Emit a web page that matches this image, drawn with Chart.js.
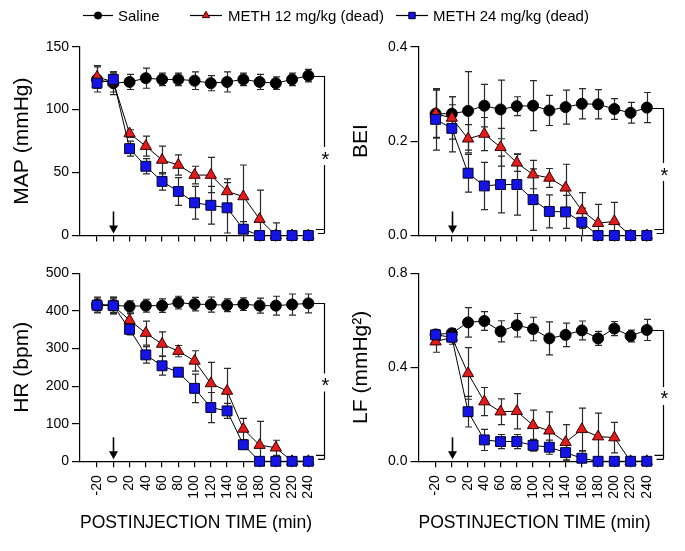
<!DOCTYPE html>
<html>
<head>
<meta charset="utf-8">
<script src="https://cdn.jsdelivr.net/npm/chart.js@4.4.1/dist/chart.umd.min.js"></script>
<style>
  html, body { margin: 0; padding: 0; background: #fff; }
  #wrap { position: relative; width: 685px; height: 551px; }
  #wrap canvas { position: absolute; left: 0; top: 0; }
</style>
</head>
<body>
<div id="wrap">
  <canvas id="map" width="685" height="551"></canvas>
  <canvas id="bei" width="685" height="551"></canvas>
  <canvas id="hr" width="685" height="551"></canvas>
  <canvas id="lf" width="685" height="551"></canvas>
</div>
<script>
// postinjection time (min)
const TIMES = [-20, 0, 20, 40, 60, 80, 100, 120, 140, 160, 180, 200, 220, 240];
const SERIES = ['Saline', 'METH 12 mg/kg (dead)', 'METH 24 mg/kg (dead)'];

// MAP (mmHg)
const mapSaline = [124, 121, 122, 125, 124, 124, 123, 121, 122, 124, 122, 121, 124, 127];
const mapSalineErr = [10, 9, 6, 8, 5, 5, 7, 6, 8, 5, 6, 5, 5, 5];
const mapMeth12 = [126, 122, 81, 71, 60, 56, 48, 48, 35, 31, 13, 0, 0, 0];
const mapMeth12Err = [9, 8, 3, 8, 11, 8, 7, 14, 10, 25, 23, 10, 0, 0];
const mapMeth24 = [121, 124, 69, 55, 43, 35, 26, 24, 22, 5, 0, 0, 0, 0];
const mapMeth24Err = [3, 5, 6, 6, 7, 11, 13, 15, 20, 6, 0, 0, 0, 0];

// BEI
const beiSaline = [0.258, 0.258, 0.264, 0.275, 0.267, 0.274, 0.275, 0.265, 0.272, 0.279, 0.278, 0.268, 0.260, 0.271];
const beiSalineErr = [0.052, 0.036, 0.083, 0.045, 0.062, 0.02, 0.053, 0.032, 0.036, 0.032, 0.031, 0.022, 0.022, 0.032];
const beiMeth12 = [0.258, 0.249, 0.205, 0.215, 0.187, 0.154, 0.129, 0.122, 0.101, 0.053, 0.026, 0.030, 0, 0];
const beiMeth12Err = [0.05, 0.045, 0.03, 0.035, 0.04, 0.018, 0.03, 0.02, 0.05, 0.038, 0.04, 0.04, 0, 0];
const beiMeth24 = [0.246, 0.227, 0.132, 0.105, 0.108, 0.108, 0.076, 0.051, 0.050, 0.028, 0, 0, 0, 0];
const beiMeth24Err = [0.065, 0.05, 0.04, 0.05, 0.06, 0.065, 0.065, 0.035, 0.035, 0.03, 0, 0, 0, 0];

// HR (bpm)
const hrSaline = [417, 415, 412, 414, 414, 422, 418, 417, 415, 418, 414, 414, 417, 420];
const hrSalineErr = [20, 22, 15, 17, 18, 17, 18, 20, 17, 17, 20, 25, 28, 25];
const hrMeth12 = [416, 414, 375, 341, 312, 293, 267, 207, 187, 86, 43, 36, 0, 0];
const hrMeth12Err = [15, 18, 18, 32, 32, 15, 27, 56, 60, 28, 63, 20, 0, 0];
const hrMeth24 = [415, 414, 351, 283, 254, 237, 194, 143, 134, 44, 0, 0, 0, 0];
const hrMeth24Err = [20, 22, 15, 22, 25, 10, 38, 40, 20, 12, 0, 0, 0, 0];

// LF (mmHg^2)
const lfSaline = [0.54, 0.545, 0.591, 0.597, 0.553, 0.579, 0.563, 0.523, 0.538, 0.557, 0.523, 0.565, 0.533, 0.559];
const lfSalineErr = [0.02, 0.02, 0.063, 0.04, 0.045, 0.05, 0.05, 0.07, 0.05, 0.04, 0.03, 0.03, 0.025, 0.045];
const lfMeth12 = [0.509, 0.528, 0.374, 0.254, 0.211, 0.213, 0.153, 0.130, 0.081, 0.136, 0.105, 0.101, 0, 0];
const lfMeth12Err = [0.045, 0.03, 0.11, 0.06, 0.055, 0.075, 0.065, 0.08, 0.075, 0.09, 0.1, 0.065, 0, 0];
const lfMeth24 = [0.538, 0.528, 0.211, 0.091, 0.084, 0.084, 0.068, 0.060, 0.037, 0.013, 0, 0, 0, 0];
const lfMeth24Err = [0.02, 0.02, 0.065, 0.045, 0.03, 0.03, 0.025, 0.03, 0.035, 0.03, 0, 0, 0, 0];

// y tick values
const mapTicks = [0, 50, 100, 150];
const beiTicks = [0, 0.2, 0.4];
const hrTicks = [0, 100, 200, 300, 400, 500];
const lfTicks = [0, 0.4, 0.8];

const FONT = "'Liberation Sans', Arial, Helvetica, sans-serif";
Chart.defaults.font.family = FONT;
Chart.defaults.color = '#000';

const W = 685, H = 551;

const STYLES = [
  { pointStyle: 'circle', radius: 5.5, fill: '#000000', stroke: '#000000', order: 3 },
  { pointStyle: 'triangle', radius: 6.5, fill: '#e01c1c', stroke: '#3a0000', order: 2 },
  { pointStyle: 'rect', radius: 7, fill: '#1414e6', stroke: '#00002a', order: 1 }
];

const errorBars = {
  id: 'errorBars',
  beforeDatasetsDraw(chart) {
    const { ctx, scales: { x, y } } = chart;
    ctx.save();
    ctx.strokeStyle = '#2a2a2a';
    ctx.lineWidth = 1.2;
    chart.data.datasets.forEach(ds => {
      ds.data.forEach((p, i) => {
        const e = ds.errors[i];
        if (!e) return;
        const px = Math.round(x.getPixelForValue(p.x)) + 0.5;
        const top = y.getPixelForValue(p.y + e);
        const bot = y.getPixelForValue(Math.max(0, p.y - e));
        ctx.beginPath();
        ctx.moveTo(px, top); ctx.lineTo(px, bot);
        ctx.moveTo(px - 3.5, top); ctx.lineTo(px + 3.5, top);
        ctx.moveTo(px - 3.5, bot); ctx.lineTo(px + 3.5, bot);
        ctx.stroke();
      });
    });
    ctx.restore();
  }
};

// significance bracket + injection arrow
const extras = {
  id: 'extras',
  afterDraw(chart) {
    const { ctx, chartArea, scales: { x, y } } = chart;
    const sal = chart.data.datasets[0].data;
    const yTop = Math.round(y.getPixelForValue(sal[sal.length - 1].y)) + 0.5;
    const yZero = y.getPixelForValue(0);
    const xr = Math.round(chartArea.right + 12) + 0.5;
    const mid = (yTop + yZero) / 2;
    ctx.save();
    ctx.strokeStyle = '#000';
    ctx.lineWidth = 1.2;
    ctx.beginPath();
    ctx.moveTo(chartArea.right + 1, yTop); ctx.lineTo(xr, yTop);
    ctx.lineTo(xr, mid - 9);
    ctx.moveTo(xr, mid + 9); ctx.lineTo(xr, yZero - 2);
    ctx.moveTo(chartArea.right + 4, yZero - 6); ctx.lineTo(xr, yZero - 6);
    ctx.moveTo(chartArea.right + 6, yZero - 2); ctx.lineTo(xr, yZero - 2);
    ctx.stroke();
    ctx.fillStyle = '#000';
    ctx.font = '20px ' + FONT;
    ctx.textAlign = 'center';
    ctx.textBaseline = 'middle';
    ctx.fillText('*', xr + 1, mid + 4);

    // arrow at injection time
    const ax = Math.round(x.getPixelForValue(0)) + 0.5;
    ctx.lineWidth = 1.6;
    ctx.beginPath();
    ctx.moveTo(ax, yZero - 24); ctx.lineTo(ax, yZero - 8);
    ctx.stroke();
    ctx.beginPath();
    ctx.moveTo(ax - 4.5, yZero - 10); ctx.lineTo(ax + 4.5, yZero - 10); ctx.lineTo(ax, yZero - 2);
    ctx.closePath();
    ctx.fill();
    ctx.restore();
  }
};

// legend row across the top of the figure
const legendRow = {
  id: 'legendRow',
  afterDraw(chart) {
    const { ctx } = chart;
    const items = [[83, 113, 118], [190, 222, 228], [396, 428, 433]];
    ctx.save();
    ctx.font = '15px ' + FONT;
    ctx.textBaseline = 'middle';
    ctx.textAlign = 'left';
    items.forEach(([x1, x2, tx], i) => {
      const st = STYLES[i];
      const y = 15.5;
      ctx.strokeStyle = '#000';
      ctx.lineWidth = 1.2;
      ctx.beginPath(); ctx.moveTo(x1, y); ctx.lineTo(x2, y); ctx.stroke();
      ctx.fillStyle = st.fill;
      ctx.strokeStyle = st.stroke;
      ctx.lineWidth = 1;
      Chart.helpers.drawPoint(ctx, { pointStyle: st.pointStyle, radius: st.radius * 0.65, rotation: 0, borderWidth: 1 }, (x1 + x2) / 2, y);
      ctx.fillStyle = '#000';
      ctx.fillText(SERIES[i], tx, y + 1);
    });
    ctx.restore();
  }
};

function makeChart(id, cfg) {
  const datasets = cfg.series.map(([vals, errs], i) => ({
    label: SERIES[i],
    data: TIMES.map((t, k) => ({ x: t, y: vals[k] })),
    errors: errs,
    order: STYLES[i].order,
    borderColor: '#000',
    borderWidth: 1,
    pointStyle: STYLES[i].pointStyle,
    pointRadius: STYLES[i].radius,
    pointBackgroundColor: STYLES[i].fill,
    pointBorderColor: STYLES[i].stroke,
    pointBorderWidth: 1,
    clip: false,
    tension: 0
  }));
  const plugins = [errorBars, extras];
  if (cfg.legend) plugins.push(legendRow);
  return new Chart(document.getElementById(id), {
    type: 'line',
    data: { datasets },
    plugins,
    options: {
      responsive: false,
      animation: false,
      events: [],
      layout: { padding: { left: cfg.padLeft, right: W - cfg.areaRight, top: cfg.top, bottom: 0 } },
      plugins: { legend: { display: false }, tooltip: { enabled: false } },
      scales: {
        x: {
          type: 'linear',
          min: -41,
          max: 244.5,
          afterBuildTicks: s => { s.ticks = TIMES.map(v => ({ value: v })); },
          afterFit: s => { s.height = H - cfg.bottom; },
          border: { display: true, color: '#000', width: 1.2 },
          grid: { drawOnChartArea: false, drawTicks: true, tickLength: 6, color: '#000', lineWidth: 1.2 },
          ticks: {
            display: cfg.xLabels,
            autoSkip: false,
            minRotation: 90,
            maxRotation: 90,
            padding: 8,
            font: { size: 14 },
            color: '#000'
          },
          title: {
            display: cfg.xLabels,
            text: 'POSTINJECTION TIME (min)',
            font: { size: 18 },
            color: '#000',
            padding: { top: 0, bottom: 17 }
          }
        },
        y: {
          min: 0,
          max: cfg.ticks[cfg.ticks.length - 1],
          afterBuildTicks: s => { s.ticks = cfg.ticks.map(v => ({ value: v })); },
          afterFit: s => { s.width = 80; },
          border: { display: true, color: '#000', width: 1.2 },
          grid: { drawOnChartArea: false, drawTicks: true, tickLength: 8, color: '#000', lineWidth: 1.2 },
          ticks: {
            padding: 3,
            font: { size: 14 },
            color: '#000',
            callback: v => v.toFixed(cfg.digits)
          },
          title: {
            display: true,
            text: cfg.title,
            font: { size: 21 },
            color: '#000',
            padding: { top: 10, bottom: 0 }
          }
        }
      }
    }
  });
}

makeChart('map', {
  title: 'MAP (mmHg)', ticks: mapTicks, digits: 0, legend: true, xLabels: false,
  padLeft: 0, areaRight: 312, top: 46.7, bottom: 235.5,
  series: [[mapSaline, mapSalineErr], [mapMeth12, mapMeth12Err], [mapMeth24, mapMeth24Err]]
});
makeChart('bei', {
  title: 'BEI', ticks: beiTicks, digits: 1, legend: false, xLabels: false,
  padLeft: 338.5, areaRight: 650.5, top: 46.7, bottom: 235.5,
  series: [[beiSaline, beiSalineErr], [beiMeth12, beiMeth12Err], [beiMeth24, beiMeth24Err]]
});
makeChart('hr', {
  title: 'HR (bpm)', ticks: hrTicks, digits: 0, legend: false, xLabels: true,
  padLeft: 0, areaRight: 312, top: 273.3, bottom: 461.3,
  series: [[hrSaline, hrSalineErr], [hrMeth12, hrMeth12Err], [hrMeth24, hrMeth24Err]]
});
makeChart('lf', {
  title: 'LF (mmHg²)', ticks: lfTicks, digits: 1, legend: false, xLabels: true,
  padLeft: 338.5, areaRight: 650.5, top: 273.3, bottom: 461.3,
  series: [[lfSaline, lfSalineErr], [lfMeth12, lfMeth12Err], [lfMeth24, lfMeth24Err]]
});
</script>
</body>
</html>
